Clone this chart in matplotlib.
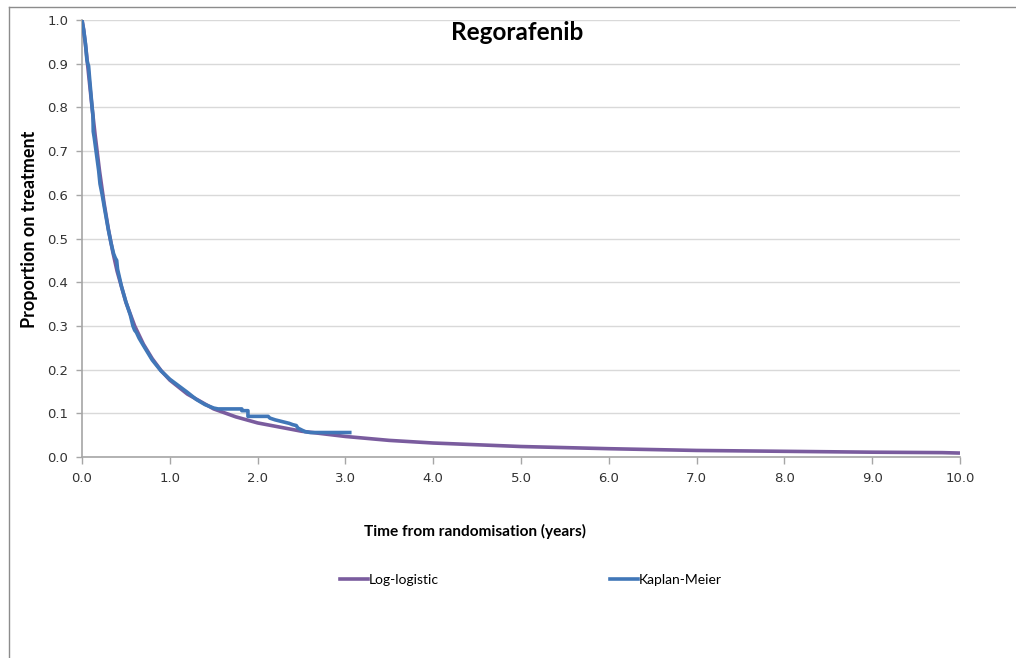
import matplotlib
matplotlib.use("Agg")
import matplotlib.pyplot as plt
from matplotlib.lines import Line2D

# Fitted log-logistic curve (years, proportion on treatment)
ll_time = [0.0, 0.02, 0.05, 0.075, 0.1, 0.125, 0.15, 0.2, 0.25, 0.3, 0.35,
           0.4, 0.5, 0.6, 0.7, 0.8, 0.9, 1.0, 1.2, 1.5, 1.75, 2.0, 2.5, 3.0,
           3.5, 4.0, 5.0, 6.0, 7.0, 8.0, 9.0, 9.8, 10.0]
ll_surv = [1.0, 0.977, 0.925, 0.876, 0.828, 0.781, 0.736, 0.654, 0.583, 0.522,
           0.470, 0.425, 0.354, 0.300, 0.258, 0.225, 0.198, 0.176, 0.144, 0.110,
           0.092, 0.078, 0.059, 0.047, 0.038, 0.032, 0.024, 0.019, 0.015, 0.013,
           0.011, 0.010, 0.009]

# Kaplan-Meier estimate (vertices of the curve; repeated times mark steps)
km_time = [0.0, 0.02, 0.04, 0.055, 0.065, 0.075, 0.085, 0.1, 0.115, 0.125,
           0.128, 0.14, 0.16, 0.19, 0.2, 0.205, 0.23, 0.26, 0.3, 0.33, 0.36,
           0.38, 0.395, 0.405, 0.45, 0.5, 0.55, 0.58, 0.6, 0.62, 0.65, 0.7,
           0.8, 0.9, 1.0, 1.1, 1.2, 1.3, 1.4, 1.5, 1.55, 1.82, 1.82, 1.89,
           1.89, 2.12, 2.14, 2.2, 2.26, 2.3, 2.36, 2.4, 2.44, 2.46, 2.5, 2.52,
           2.54, 2.6, 3.07]
km_surv = [1.0, 0.975, 0.945, 0.91, 0.90, 0.895, 0.87, 0.835, 0.80, 0.78,
           0.745, 0.73, 0.70, 0.655, 0.635, 0.625, 0.60, 0.565, 0.52, 0.49,
           0.465, 0.455, 0.45, 0.43, 0.39, 0.355, 0.325, 0.30, 0.29, 0.285,
           0.272, 0.255, 0.222, 0.197, 0.178, 0.163, 0.148, 0.132, 0.12, 0.112,
           0.11, 0.11, 0.106, 0.106, 0.093, 0.093, 0.089, 0.085, 0.082, 0.08,
           0.077, 0.074, 0.072, 0.066, 0.062, 0.06, 0.058, 0.056, 0.056]

x_ticks = [0, 1, 2, 3, 4, 5, 6, 7, 8, 9, 10]
y_ticks = [0.0, 0.1, 0.2, 0.3, 0.4, 0.5, 0.6, 0.7, 0.8, 0.9, 1.0]

PURPLE = "#7A5C9E"
BLUE = "#4177B8"
AXIS_GREY = "#A6A6A6"
GRID_GREY = "#D9D9D9"

W, H = 1016, 658
fig = plt.figure(figsize=(W / 100, H / 100), dpi=100)
fig.patch.set_facecolor("white")

ax = fig.add_axes([82 / W, 1 - 457 / H, (960 - 82) / W, (457 - 20) / H])
ax.set_xlim(0, 10)
ax.set_ylim(0, 1.0)

ax.plot(ll_time, ll_surv, color=PURPLE, lw=2.6, solid_capstyle="butt",
        solid_joinstyle="round", label="Log-logistic", zorder=3)
ax.plot(km_time, km_surv, color=BLUE, lw=2.6, solid_capstyle="butt",
        solid_joinstyle="round", label="Kaplan-Meier", zorder=4)

ax.set_xticks(x_ticks)
ax.set_xticklabels([f"{v:.1f}" for v in x_ticks])
ax.set_yticks(y_ticks)
ax.set_yticklabels([f"{v:.1f}" for v in y_ticks])
ax.tick_params(axis="both", labelsize=9.5, colors="#333333", length=5,
               width=1, direction="out", pad=6)
ax.tick_params(axis="x", color=AXIS_GREY)
ax.tick_params(axis="y", color=AXIS_GREY, length=4)
ax.grid(axis="y", color=GRID_GREY, lw=1)
ax.set_axisbelow(True)
for side in ("top", "right"):
    ax.spines[side].set_visible(False)
for side in ("left", "bottom"):
    ax.spines[side].set_color(AXIS_GREY)
    ax.spines[side].set_linewidth(1.2)

bold = dict(family=["Lato", "DejaVu Sans"], fontweight="bold", color="black")
fig.text(517 / W, 1 - 32 / H, "Regorafenib", fontsize=17.5, ha="center",
         va="center", **bold)
fig.text(30 / W, 1 - 229 / H, "Proportion on treatment", fontsize=13,
         rotation=90, ha="center", va="center", **bold)
fig.text(475 / W, 1 - 531 / H, "Time from randomisation (years)", fontsize=11.1,
         ha="center", va="center", **bold)

handles = [Line2D([], [], color=PURPLE, lw=2.6), Line2D([], [], color=BLUE, lw=2.6)]
fig.legend(handles, ["Log-logistic", "Kaplan-Meier"], ncol=2, frameon=False,
           loc="center left", bbox_to_anchor=(340 / W, 1 - 580 / H),
           prop={"family": ["Lato", "DejaVu Sans"], "size": 10},
           handlelength=2.0, handletextpad=0.1, columnspacing=12.3,
           borderpad=0, borderaxespad=0)

# outer chart frame
fig.add_artist(Line2D([9 / W, 1], [1 - 7 / H, 1 - 7 / H], color="#8C8C8C",
                      lw=1, transform=fig.transFigure))
fig.add_artist(Line2D([9 / W, 9 / W], [0, 1 - 7 / H], color="#8C8C8C",
                      lw=1, transform=fig.transFigure))

fig.savefig("out.png", dpi=100)
